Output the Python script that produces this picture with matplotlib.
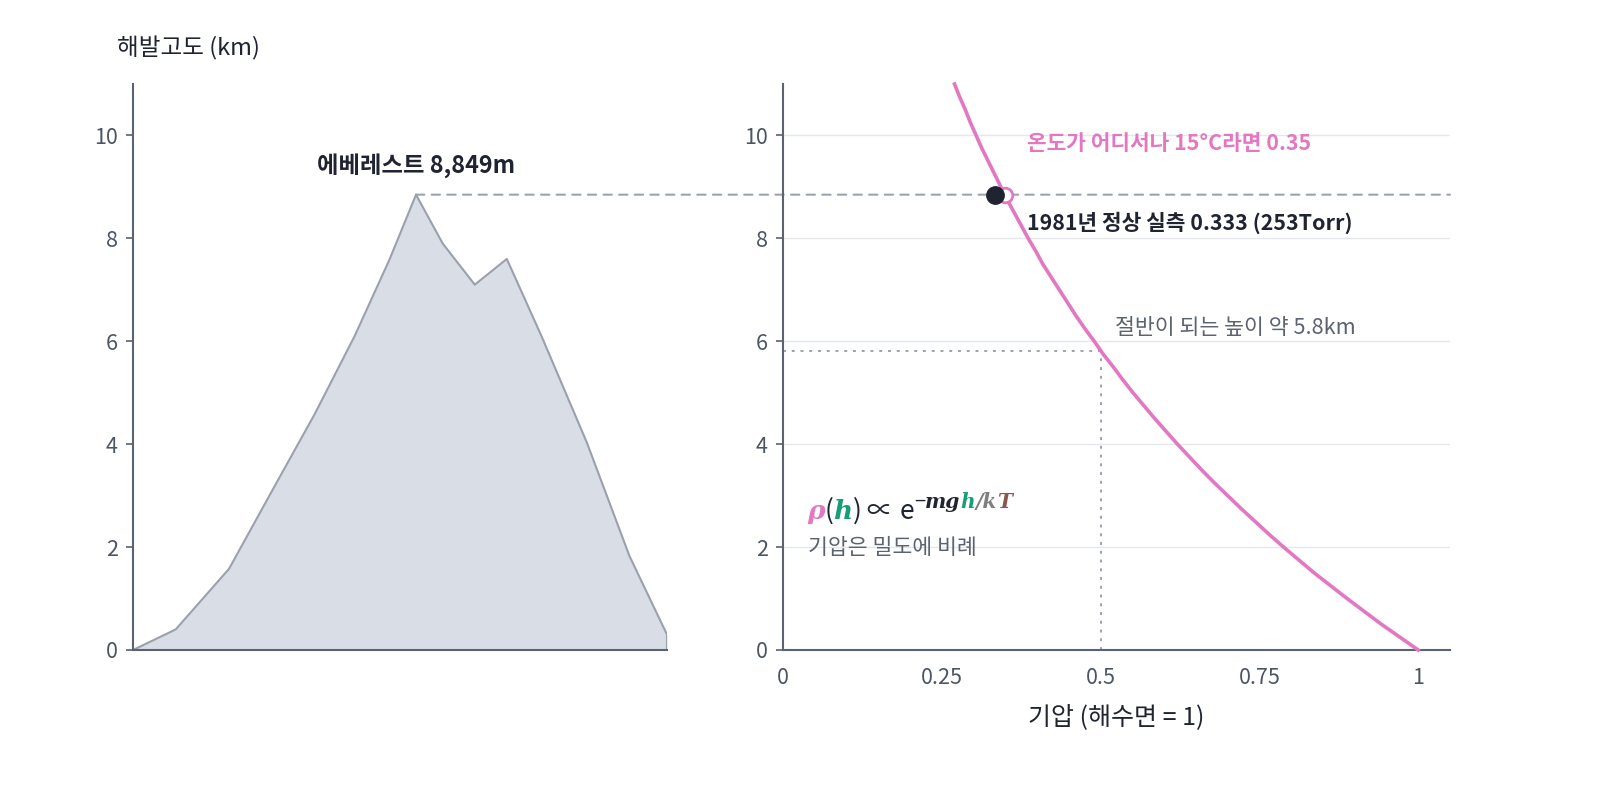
import matplotlib
matplotlib.use("Agg")
import matplotlib.pyplot as plt
from matplotlib.patches import ConnectionPatch

plt.rcParams['font.family'] = ['Noto Sans CJK KR', 'DejaVu Sans']

# ---------------- data ----------------
# mountain profile (horizontal distance, arbitrary units 0-100) and altitude (km)
profile_x = [0, 8, 18, 26.5, 34, 41.5, 48, 53, 58, 64, 70, 76.5, 85, 93, 100, 100]
profile_h = [0, 0.40, 1.58, 3.18, 4.58, 6.10, 7.58, 8.849, 7.90, 7.10, 7.60, 6.10, 4.03, 1.82, 0.30, 0]
everest_x = 53
everest_h = 8.849

# pressure (sea level = 1) vs altitude (km)
curve_h = [0, 0.25, 0.5, 0.75, 1, 1.25, 1.5, 1.75, 2, 2.25, 2.5, 2.75, 3, 3.25, 3.5, 3.75,
           4, 4.25, 4.5, 4.75, 5, 5.25, 5.5, 5.75, 6, 6.25, 6.5, 6.75, 7, 7.25, 7.5, 7.75,
           8, 8.25, 8.5, 8.75, 9, 9.25, 9.5, 9.75, 10, 10.25, 10.5, 10.75, 11]
curve_p = [1.000, 0.971, 0.942, 0.915, 0.888, 0.862, 0.836, 0.812, 0.788, 0.765, 0.743,
           0.721, 0.700, 0.679, 0.659, 0.640, 0.621, 0.603, 0.585, 0.568, 0.551, 0.535,
           0.520, 0.504, 0.490, 0.475, 0.461, 0.448, 0.435, 0.422, 0.409, 0.398, 0.386,
           0.375, 0.364, 0.353, 0.343, 0.333, 0.323, 0.313, 0.304, 0.295, 0.287, 0.278,
           0.270]
measured_p = 0.333
model_p = 0.35
half_p = 0.5
half_h = 5.82

y_ticks = [0, 2, 4, 6, 8, 10]
x_ticks = [0, 0.25, 0.5, 0.75, 1]
x_tick_labels = ["0", "0.25", "0.5", "0.75", "1"]

# ---------------- style ----------------
DARK = '#1f2430'
AXIS = '#5b6270'
TICK = '#4b5563'
GRID = '#e5e7eb'
REF = '#9ca3af'
PINK = '#e377c2'
GREEN = '#169e76'
GRAYK = '#7f7f7f'
BROWN = '#8c564b'

fig = plt.figure(figsize=(16, 8), dpi=100)
W, H = 1600, 800
ax1 = fig.add_axes([133 / W, 1 - 650 / H, 534 / W, (650 - 84) / H])
ax2 = fig.add_axes([783 / W, 1 - 650 / H, 667 / W, (650 - 84) / H])

for ax in (ax1, ax2):
    ax.set_ylim(0, 11)
    ax.set_yticks(y_ticks)
    for s in ('top', 'right'):
        ax.spines[s].set_visible(False)
    for s in ('left', 'bottom'):
        ax.spines[s].set_color(AXIS)
        ax.spines[s].set_linewidth(1.5)
    ax.tick_params(axis='y', colors=AXIS, labelcolor=TICK, labelsize=15.5, length=5, width=1.2, pad=6)
    ax.set_facecolor('none')

# left: mountain
ax1.set_xlim(0, 100)
ax1.set_xticks([])
ax1.fill_between(profile_x, profile_h, 0, color='#d8dde6', linewidth=0)
ax1.plot(profile_x, profile_h, color='#9aa1ad', linewidth=1.5)
ax1.text(everest_x, 9.42, "에베레스트 8,849m", ha='center', va='center',
         fontsize=16.8, fontweight='bold', color=DARK)

# right: pressure curve
ax2.set_xlim(0, 1.05)
ax2.set_xticks(x_ticks)
ax2.set_xticklabels(x_tick_labels)
ax2.tick_params(axis='x', length=0, labelcolor=TICK, labelsize=15.5, pad=12)
ax2.grid(axis='y', color=GRID, linewidth=1)
ax2.set_axisbelow(True)
ax2.set_xlabel("기압 (해수면 = 1)", fontsize=18, color=DARK, labelpad=11)

ax2.plot(curve_p, curve_h, color=PINK, linewidth=2.6, zorder=3, clip_on=False,
         solid_joinstyle='round')
ax2.plot([0, half_p], [half_h, half_h], color=REF, linestyle=(0, (1.5, 3)), linewidth=1.4, zorder=2)
ax2.plot([half_p, half_p], [0, half_h], color=REF, linestyle=(0, (1.5, 3)), linewidth=1.4, zorder=2)

ax2.plot([model_p], [everest_h], marker='o', ms=10.5, mfc='white', mec=PINK, mew=2, zorder=5)
ax2.plot([measured_p], [everest_h], marker='o', ms=12.5, mfc=DARK, mec=DARK, zorder=6)

con = ConnectionPatch(xyA=(everest_x, everest_h), coordsA=ax1.transData,
                      xyB=(1.05, everest_h), coordsB=ax2.transData,
                      color=REF, linestyle=(0, (4, 3.5)), linewidth=1.5, zorder=-1)
fig.add_artist(con)

ax2.text(0.384, 9.84, "온도가 어디서나 15°C라면 0.35", ha='left', va='center',
         fontsize=15.4, fontweight='bold', color=PINK)
ax2.text(0.384, 8.31, "1981년 정상 실측 0.333 (253Torr)", ha='left', va='center',
         fontsize=15.4, fontweight='bold', color=DARK)
ax2.text(0.523, 6.25, "절반이 되는 높이 약 5.8km", ha='left', va='center',
         fontsize=15.6, color='#5b6270')
ax2.text(0.039, 1.98, "기압은 밀도에 비례", ha='left', va='center',
         fontsize=15.6, color='#5b6270')

fig.text(117 / W, 1 - 48 / H, "해발고도 (km)", ha='left', va='center', fontsize=17, color=DARK)

# formula, built piece by piece
SERIF_BI = dict(family='DejaVu Serif', fontweight='bold', fontstyle='italic')
SANS = dict(family=['Noto Sans CJK KR', 'DejaVu Sans'])
pieces = [
    ("ρ", PINK, 19, 0, SERIF_BI),
    ("(", DARK, 19, 0, SANS),
    ("h", GREEN, 19, 0, SERIF_BI),
    (")", DARK, 19, 0, SANS),
    (" ∝ ", DARK, 19, 0, SANS),
    ("e", DARK, 19, 0, SANS),
    ("−", DARK, 14.5, 11, SANS),
    ("mg", DARK, 14.5, 11, SERIF_BI),
    ("h", GREEN, 14.5, 11, SERIF_BI),
    ("/k", GRAYK, 14.5, 11, SERIF_BI),
    ("T", BROWN, 14.5, 11, SERIF_BI),
]
fig.canvas.draw()
renderer = fig.canvas.get_renderer()
x_px = 807.0
base_px = 800 - 519.0
for txt, col, size, rise, props in pieces:
    t = fig.text(x_px / W, (base_px + rise) / H, txt, color=col, fontsize=size,
                 va='baseline', ha='left', **props)
    bb = t.get_window_extent(renderer=renderer)
    x_px += bb.width

fig.savefig("out.png", dpi=100, facecolor='white')
